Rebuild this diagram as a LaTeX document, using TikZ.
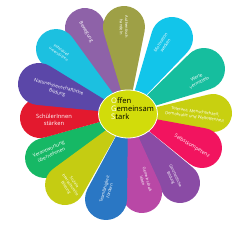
\documentclass[tikz,border=0pt]{standalone}
\usepackage{fontspec}
\setmainfont{Open Sans}
\usetikzlibrary{shapes.geometric}
\definecolor{cOlive}{HTML}{9EA046}
\definecolor{cBew}{HTML}{8E62A8}
\definecolor{cInd}{HTML}{1CC0E0}
\definecolor{cNat}{HTML}{5B47A8}
\definecolor{cRed}{HTML}{E3192E}
\definecolor{cGreen}{HTML}{16B865}
\definecolor{cSoz}{HTML}{C5CC12}
\definecolor{cBlue}{HTML}{2A77C4}
\definecolor{cMag}{HTML}{B948A6}
\definecolor{cGanz}{HTML}{8A4BA5}
\definecolor{cPink}{HTML}{F2145F}
\definecolor{cTol}{HTML}{C8D010}
\definecolor{cTeal}{HTML}{16BE9E}
\definecolor{cMot}{HTML}{12C5EA}
\definecolor{cHub}{HTML}{D2DC0A}
\newcommand{\drawpetal}[4]{%
 \pgfmathsetmacro{\pdx}{#2-128}%
 \pgfmathsetmacro{\pdy}{114-#3}%
 \pgfmathsetmacro{\pang}{atan2(\pdy,\pdx)}%
 \pgfmathsetmacro{\pdd}{veclen(\pdx,\pdy)}%
 \pgfmathsetmacro{\pph}{asin(#4/\pdd)}%
 \pgfmathsetmacro{\ptl}{sqrt(\pdd*\pdd-#4*#4)}%
 \begin{scope}[shift={(C)},rotate=\pang]
 \fill[#1] (0,0) -- (\pph:\ptl) arc[start angle=90+\pph, end angle=-90-\pph, radius=#4pt] -- cycle;
 \end{scope}}
\tikzset{
 ptext/.style={text=white, align=center, inner sep=0pt},
 hub/.style={ellipse, minimum width=59pt, minimum height=48pt, fill=cHub, draw=white, line width=0.8pt, inner sep=0pt},
 motto/.style={anchor=west, align=left, inner sep=0pt, font=\fontsize{7.6}{7.9}\selectfont}
}
\begin{document}
\begin{tikzpicture}[x=1pt,y=1pt]
\useasboundingbox (0,0) rectangle (250,227);
\fill[white] (0,0) rectangle (250,227);
\coordinate (C) at (128,113);
% petals: colour, cx, cy (screen), r
\drawpetal{cBew}{85}{28}{20}
\drawpetal{cOlive}{124}{27}{21}
\drawpetal{cMot}{172}{38}{21}
\drawpetal{cTeal}{204}{69}{21}
\drawpetal{cTol}{213}{113}{19}
\drawpetal{cGanz}{180}{183}{20}
\drawpetal{cPink}{202}{148}{20}
\drawpetal{cMag}{142}{193}{20}
\drawpetal{cGreen}{45}{158}{20}
\drawpetal{cRed}{40}{118}{20}
\drawpetal{cInd}{56}{49}{20}
\drawpetal{cNat}{39}{84}{21}
\drawpetal{cSoz}{65}{185}{20}
\drawpetal{cBlue}{106}{199}{21}
% hub
\node[hub] (hub) at (C) {};
\node[motto] (mtext) at (111,118) {{\color{white}O}ffen\\{\color{white}G}emeinsam\\{\color{white}S}tark};
% petal labels
\node[ptext, rotate=-90, font=\fontsize{4.0}{5.2}\selectfont] (t1) at (124,200) {Authentisch\\handeln};
\node[ptext, rotate=57, font=\fontsize{4.3}{5.5}\selectfont] (t2) at (163,183) {Motivation\\wecken};
\node[ptext, rotate=28, font=\fontsize{4.5}{5.8}\selectfont] (t3) at (198,147) {Werte\\vermitteln};
\node[ptext, rotate=-8, font=\fontsize{4.2}{5.4}\selectfont] (t4) at (195,113) {Toleranz, Menschlichkeit,\\Demokratie und Weltoffenheit};
\node[ptext, rotate=-31, font=\fontsize{5.0}{6.2}\selectfont] (t5) at (192,81) {Selbstkompetenz};
\node[ptext, rotate=-65, font=\fontsize{3.9}{5.0}\selectfont] (t6) at (173,50) {Ganzheitliche\\Bildung};
\node[ptext, rotate=-75, font=\fontsize{3.9}{5.0}\selectfont] (t7) at (145,47) {Gemeinschaft\\leben};
\node[ptext, rotate=75, font=\fontsize{4.2}{5.4}\selectfont] (t8) at (107,37) {Teamfähigkeit\\fördern};
\node[ptext, rotate=-55, font=\fontsize{3.9}{5.0}\selectfont] (t9) at (70,42) {Soziale\\interkulturelle\\Bildung};
\node[ptext, rotate=25, font=\fontsize{4.9}{6.2}\selectfont] (t10) at (50,75) {Verantwortung\\übernehmen};
\node[ptext, font=\fontsize{5.8}{7.6}\selectfont] (t11) at (54,107) {SchülerInnen\\stärken};
\node[ptext, rotate=-15, font=\fontsize{4.7}{6.0}\selectfont] (t12) at (58,137) {Naturwissenschaftliche\\Bildung};
\node[ptext, rotate=-35, font=\fontsize{3.7}{4.8}\selectfont] (t13) at (60,175) {Individuell\\unterstützen};
\node[ptext, rotate=-60, font=\fontsize{4.8}{6}\selectfont] (t14) at (86,195) {Bewegung};
\end{tikzpicture}
\end{document}
